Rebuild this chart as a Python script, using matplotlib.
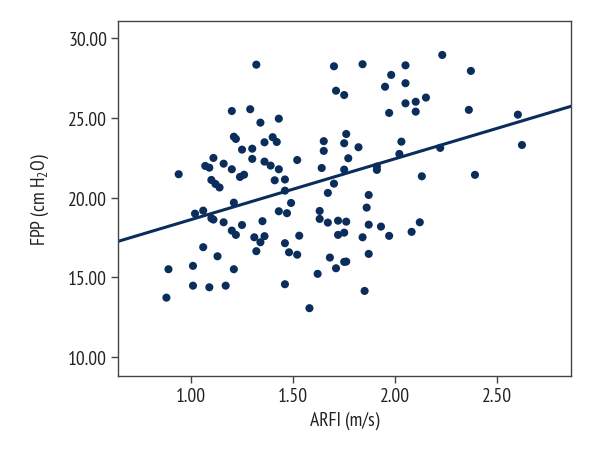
import matplotlib
matplotlib.use("Agg")
import matplotlib.pyplot as plt
import numpy as np

arfi = [1.32, 1.20, 1.29, 1.43, 1.34, 1.21, 1.22, 1.40, 1.42, 1.36,
        1.25, 1.30, 1.11, 1.30, 1.07, 1.09, 1.16, 1.20, 1.36, 1.39,
        1.43, 1.52, 0.94, 1.24, 1.26, 1.41, 1.46, 1.10, 1.12, 1.14,
        1.46, 1.49, 1.21, 1.02, 1.06, 1.10, 1.11, 1.16, 1.25, 1.20,
        1.22, 1.35, 1.43, 1.47, 1.31, 1.34, 1.36, 1.53, 1.46, 1.48,
        1.52, 1.32, 1.06, 1.13, 0.89, 1.01, 1.21, 0.88, 1.01, 1.09,
        1.17, 1.46, 1.70, 1.84, 2.05, 2.23, 2.37, 1.98, 1.95, 2.05,
        1.71, 1.75, 2.05, 2.10, 2.15, 2.10, 1.97, 2.36, 1.76, 1.65,
        1.65, 1.75, 1.82, 2.03, 1.77, 2.02, 2.22, 1.64, 1.75, 1.91,
        1.91, 1.70, 2.13, 2.39, 1.67, 1.63, 1.87, 1.86, 1.63, 1.67,
        1.72, 1.76, 1.87, 1.93, 1.72, 1.75, 1.84, 1.97, 2.08, 2.12,
        1.68, 1.71, 1.75, 1.76, 1.87, 1.62, 1.85, 1.58, 2.60, 2.62]

fpp = [28.32, 25.42, 25.53, 24.94, 24.69, 23.81, 23.67, 23.78, 23.48, 23.46,
       23.00, 23.06, 22.48, 22.42, 21.98, 21.87, 22.12, 21.77, 22.25, 22.00,
       21.77, 22.35, 21.46, 21.29, 21.43, 21.08, 21.13, 21.10, 20.85, 20.63,
       20.43, 19.66, 19.68, 18.99, 19.18, 18.70, 18.62, 18.45, 18.28, 17.93,
       17.66, 18.52, 19.14, 19.02, 17.51, 17.20, 17.58, 17.61, 17.14, 16.57,
       16.42, 16.64, 16.89, 16.32, 15.51, 15.72, 15.51, 13.73, 14.48, 14.38,
       14.48, 14.57, 28.22, 28.35, 28.28, 28.93, 27.93, 27.68, 26.94, 27.16,
       26.69, 26.42, 25.90, 26.00, 26.26, 25.38, 25.30, 25.49, 23.98, 23.53,
       22.92, 23.40, 23.15, 23.50, 22.46, 22.73, 23.11, 21.85, 21.75, 21.94,
       21.73, 20.87, 21.33, 21.42, 20.29, 19.16, 20.16, 19.37, 18.66, 18.43,
       18.55, 18.49, 18.30, 18.18, 17.66, 17.80, 17.51, 17.60, 17.85, 18.45,
       16.24, 15.57, 15.97, 15.99, 16.47, 15.22, 14.15, 13.07, 25.19, 23.29]

fit_intercept = 14.80
fit_slope = 3.816

x_ticks = [1.0, 1.5, 2.0, 2.5]
y_ticks = [10, 15, 20, 25, 30]

navy = "#0b2d5b"
font = ["PT Sans Narrow", "DejaVu Sans"]
plt.rcParams["font.family"] = font
plt.rcParams["mathtext.fontset"] = "custom"
plt.rcParams["mathtext.rm"] = "PT Sans Narrow"
plt.rcParams["mathtext.it"] = "PT Sans Narrow"
plt.rcParams["mathtext.default"] = "rm"

fig = plt.figure(figsize=(6, 4.6), dpi=100)
ax = fig.add_axes([0.197, 0.180, 0.755, 0.773])

xlim = (0.644, 2.861)
ylim = (8.81, 31.08)
ax.scatter(arfi, fpp, s=34, color=navy, edgecolors="none", zorder=3)
xl = np.array(xlim)
ax.plot(xl, fit_intercept + fit_slope * xl, color=navy, lw=2.2, zorder=2)

ax.set_xlim(*xlim)
ax.set_ylim(*ylim)
ax.set_xticks(x_ticks)
ax.set_yticks(y_ticks)
ax.set_xticklabels([f"{v:.2f}" for v in x_ticks])
ax.set_yticklabels([f"{v:.2f}" for v in y_ticks])
for s in ax.spines.values():
    s.set_color("#444444")
    s.set_linewidth(1.0)
ax.tick_params(direction="out", length=5, width=1, color="#444444",
               labelsize=14, labelcolor="#222222", pad=3)

ax.set_xlabel("ARFI (m/s)", fontsize=14, color="#222222", labelpad=4)
ax.set_ylabel("FPP (cm H$_{2}$O)", fontsize=14, color="#222222", labelpad=12)

fig.savefig("out.png", dpi=100)
